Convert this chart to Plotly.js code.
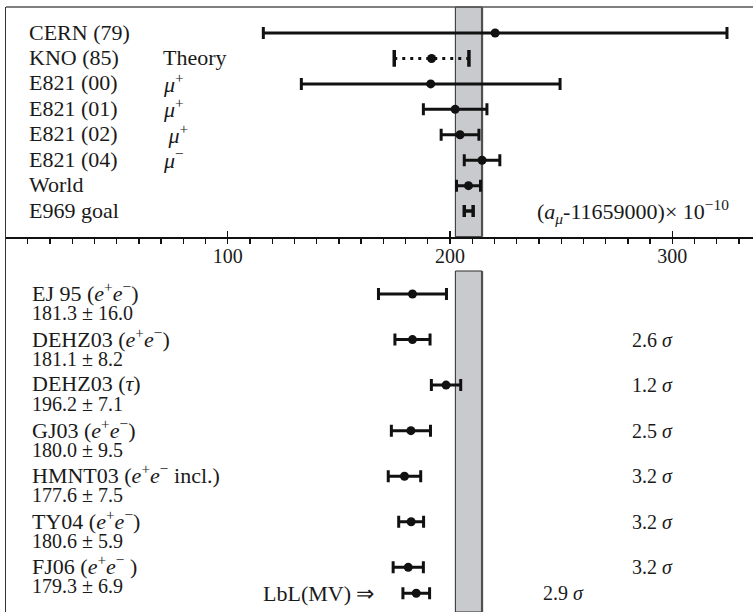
<!DOCTYPE html>
<html><head><meta charset="utf-8">
<script src="https://cdn.plot.ly/plotly-3.0.1.min.js"></script>
<style>html,body{margin:0;padding:0;background:#fff;}</style>
</head><body><div id="chart" style="width:753px;height:612px;"></div>
<script>
// ---------- DATA ----------
// Top panel: (a_mu - 11659000) x 1e-10 measurements / theory
const topNames  = ['CERN (79)', 'KNO (85)', 'E821 (00)', 'E821 (01)', 'E821 (02)', 'E821 (04)', 'World', 'E969 goal'];
const topNotes  = ['', 'Theory', '<i>μ</i><sup>+</sup>', '<i>μ</i><sup>+</sup>', ' <i>μ</i><sup>+</sup>', '<i>μ</i><sup>−</sup>', '', ''];
const topKind   = ['exp', 'theory', 'exp', 'exp', 'exp', 'exp', 'exp', 'goal'];
const topValues = [220.3, 191.7, 191.3, 202.3, 204.5, 214.4, 208.3, 208.4];
const topErrors = [104.3, 16.8, 58.2, 14.3, 8.5, 8.0, 5.4, 2.0];
const topRows   = [0, 1, 2, 3, 4, 5, 6, 7];

// World-average band
const bandCenter = 208.4;
const bandHalf   = 6.0;

// Bottom panel: SM predictions
const botNames  = ['EJ 95 (<i>e</i><sup>+</sup><i>e</i><sup>−</sup>)',
                   'DEHZ03 (<i>e</i><sup>+</sup><i>e</i><sup>−</sup>)',
                   'DEHZ03 (<i>τ</i>)',
                   'GJ03 (<i>e</i><sup>+</sup><i>e</i><sup>−</sup>)',
                   'HMNT03 (<i>e</i><sup>+</sup><i>e</i><sup>−</sup> incl.)',
                   'TY04 (<i>e</i><sup>+</sup><i>e</i><sup>−</sup>)',
                   'FJ06 (<i>e</i><sup>+</sup><i>e</i><sup>−</sup> )'];
const botQuoted = ['181.3 ± 16.0', '181.1 ± 8.2', '196.2 ± 7.1', '180.0 ± 9.5', '177.6 ± 7.5', '180.6 ± 5.9', '179.3 ± 6.9'];
const botValues = [183.1, 183.1, 198.2, 182.4, 179.5, 182.5, 181.2];
const botErrors = [15.3, 7.9, 6.6, 8.8, 7.3, 5.6, 6.8];
const botSigma  = ['', '2.6', '1.2', '2.5', '3.2', '3.2', '3.2'];
const botRows   = [0, 1, 2, 3, 4, 5, 6];

// Light-by-light (MV) variant
const lblName  = 'LbL(MV) ⇒';
const lblValue = 184.8;
const lblError = 6.0;
const lblSigma = '2.9';
const lblRow   = 6.57;

const axisTitle = '(<i>a</i><sub><i>μ</i></sub>-11659000)× 10<sup>−10</sup>';

// ---------- STYLE ----------
const FONT = 'Liberation Serif, Times New Roman, serif';
const INK = '#111';
const W = 753, ML = 6, PW = 747;
const px = p => (p - ML) / PW;           // pixel -> paper x
const SPLIT = (612 - 236.7) / 605;       // paper y of the axis line

const ebar = (arr) => ({type: 'data', array: arr, visible: true, color: INK, thickness: 3, width: 6});

const traces = [];
// Top: experimental points
const expIdx = topKind.map((k, i) => k === 'exp' ? i : -1).filter(i => i >= 0);
traces.push({
  type: 'scatter', mode: 'markers', xaxis: 'x', yaxis: 'y',
  x: expIdx.map(i => topValues[i]), y: expIdx.map(i => topRows[i]),
  marker: {size: 9, color: INK},
  error_x: ebar(expIdx.map(i => topErrors[i])),
  hoverinfo: 'skip'
});
// Top: theory (dotted)
const thIdx = topKind.indexOf('theory');
const thEnds = [topValues[thIdx] - topErrors[thIdx], topValues[thIdx] + topErrors[thIdx]];
traces.push({
  type: 'scatter', mode: 'lines', xaxis: 'x', yaxis: 'y',
  x: thEnds, y: [topRows[thIdx], topRows[thIdx]],
  line: {color: INK, width: 3, dash: '3px,5px'}, hoverinfo: 'skip'
});
traces.push({
  type: 'scatter', mode: 'markers', xaxis: 'x', yaxis: 'y',
  x: thEnds, y: [topRows[thIdx], topRows[thIdx]],
  marker: {symbol: 'line-ns-open', size: 12, color: INK, line: {width: 3.5, color: INK}}, hoverinfo: 'skip'
});
traces.push({
  type: 'scatter', mode: 'markers', xaxis: 'x', yaxis: 'y',
  x: [topValues[thIdx]], y: [topRows[thIdx]],
  marker: {size: 9, color: INK}, hoverinfo: 'skip'
});
// Top: goal (error bar only)
const gIdx = topKind.indexOf('goal');
traces.push({
  type: 'scatter', mode: 'markers', xaxis: 'x', yaxis: 'y',
  x: [topValues[gIdx]], y: [topRows[gIdx]],
  marker: {size: 1, color: 'rgba(0,0,0,0)'},
  error_x: {type: 'data', array: [topErrors[gIdx]], visible: true, color: INK, thickness: 3.5, width: 6},
  hoverinfo: 'skip'
});
// Bottom: predictions
traces.push({
  type: 'scatter', mode: 'markers', xaxis: 'x', yaxis: 'y2',
  x: botValues, y: botRows,
  marker: {size: 9, color: INK},
  error_x: ebar(botErrors), hoverinfo: 'skip'
});
traces.push({
  type: 'scatter', mode: 'markers', xaxis: 'x', yaxis: 'y2',
  x: [lblValue], y: [lblRow],
  marker: {size: 9, color: INK},
  error_x: ebar([lblError]), hoverinfo: 'skip'
});
// dummy for the second (downward major tick) axis
traces.push({type: 'scatter', mode: 'markers', xaxis: 'x2', yaxis: 'y', x: [], y: [], hoverinfo: 'skip', showlegend: false});

// ---------- ANNOTATIONS ----------
const tfBig = {family: FONT, size: 22, color: '#1a1a1a'};
const tf = {family: FONT, size: 20, color: '#1a1a1a'};
const ann = [];
topNames.forEach((n, i) => {
  ann.push({xref: 'paper', yref: 'y', x: px(27), y: topRows[i], yshift: 1, text: n, showarrow: false, xanchor: 'left', yanchor: 'middle', font: tfBig});
  if (topNotes[i]) ann.push({xref: 'paper', yref: 'y', x: px(161), y: topRows[i], yshift: 1, text: topNotes[i], showarrow: false, xanchor: 'left', yanchor: 'middle', font: tfBig});
});
ann.push({xref: 'paper', yref: 'y', x: px(731), y: topRows[gIdx], text: axisTitle, showarrow: false, xanchor: 'right', yanchor: 'middle', font: tfBig});
botNames.forEach((n, i) => {
  ann.push({xref: 'paper', yref: 'y2', x: px(30), y: botRows[i], yshift: 2, text: n, showarrow: false, xanchor: 'left', yanchor: 'middle', font: tfBig});
  ann.push({xref: 'paper', yref: 'y2', x: px(30), y: botRows[i], yshift: -19, text: botQuoted[i], showarrow: false, xanchor: 'left', yanchor: 'middle', font: tf});
  if (botSigma[i]) ann.push({xref: 'paper', yref: 'y2', x: px(630), y: botRows[i], text: botSigma[i] + ' <i>σ</i>', showarrow: false, xanchor: 'left', yanchor: 'middle', font: tf});
});
ann.push({xref: 'paper', yref: 'y2', x: px(261), y: lblRow, text: lblName, showarrow: false, xanchor: 'left', yanchor: 'middle', font: tfBig});
ann.push({xref: 'paper', yref: 'y2', x: px(541), y: lblRow, text: lblSigma + ' <i>σ</i>', showarrow: false, xanchor: 'left', yanchor: 'middle', font: tf});

// ---------- LAYOUT ----------
const xr = [(ML - 5.5) / 2.2227, (W - 5.5) / 2.2227];
const bandLo = bandCenter - bandHalf, bandHi = bandCenter + bandHalf;
const layout = {
  width: 753, height: 612,
  margin: {l: ML, r: 0, t: 7, b: 0, pad: 0},
  paper_bgcolor: '#fff', plot_bgcolor: '#fff',
  showlegend: false,
  font: tf,
  xaxis: {
    domain: [0, 1], range: xr, anchor: 'free', position: SPLIT,
    showline: true, linecolor: INK, linewidth: 1.8,
    ticks: 'inside', ticklen: 6, tickwidth: 1.4, tickcolor: INK,
    tickmode: 'linear', tick0: 0, dtick: 100,
    tickfont: {family: FONT, size: 20, color: '#1a1a1a'},
    minor: {ticks: 'outside', ticklen: 5, tickwidth: 1.3, tickcolor: INK, tickmode: 'linear', tick0: 0, dtick: 10, showgrid: false},
    showgrid: false, zeroline: false
  },
  xaxis2: {
    domain: [0, 1], range: xr, overlaying: 'x', anchor: 'free', position: SPLIT,
    showline: false, ticks: 'outside', ticklen: 5, tickwidth: 1.4, tickcolor: INK,
    tickmode: 'linear', tick0: 0, dtick: 100, showticklabels: false,
    showgrid: false, zeroline: false
  },
  yaxis: {
    domain: [SPLIT, 1], range: [8.008, -1.024], anchor: 'x',
    showline: true, linecolor: '#333', linewidth: 1.3,
    showticklabels: false, ticks: '', showgrid: false, zeroline: false
  },
  yaxis2: {
    domain: [0, SPLIT], range: [6.981, -1.258], anchor: 'x',
    showline: true, linecolor: '#333', linewidth: 1.3,
    showticklabels: false, ticks: '', showgrid: false, zeroline: false
  },
  shapes: [
    {type: 'rect', xref: 'x', yref: 'y domain', x0: bandLo, x1: bandHi, y0: 0, y1: 1,
     fillcolor: '#c9cacd', line: {color: '#2a2a2a', width: 1}, layer: 'below'},
    {type: 'line', xref: 'x', yref: 'y domain', x0: bandHi, x1: bandHi, y0: 0, y1: 1,
     line: {color: '#505050', width: 2.2}, layer: 'below'},
    {type: 'rect', xref: 'x', yref: 'y2 domain', x0: bandLo, x1: bandHi, y0: 0, y1: 0.9086,
     fillcolor: '#c9cacd', line: {color: '#2a2a2a', width: 1}, layer: 'below'},
    {type: 'line', xref: 'x', yref: 'y2 domain', x0: bandHi, x1: bandHi, y0: 0, y1: 0.9086,
     line: {color: '#505050', width: 2.2}, layer: 'below'},
    {type: 'line', xref: 'paper', yref: 'paper', x0: 0, x1: 1, y0: 1, y1: 1, line: {color: '#555', width: 1.3}}
  ],
  annotations: ann
};

Plotly.newPlot('chart', traces, layout, {displayModeBar: false, staticPlot: true});
</script>
</body></html>
